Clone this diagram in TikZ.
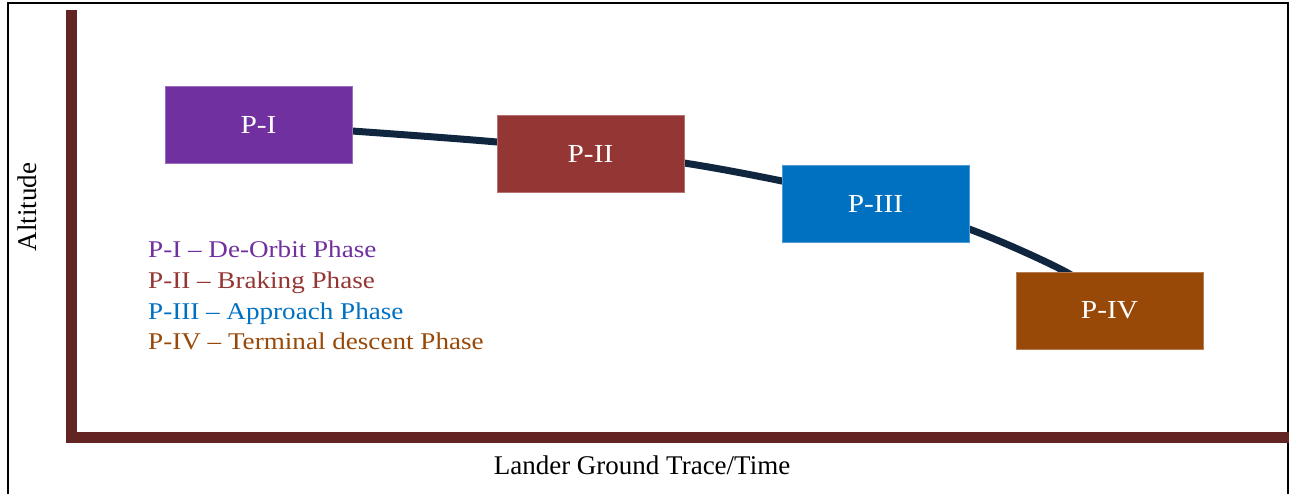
\documentclass[tikz,border=0pt]{standalone}
\usepackage{fontspec}
\setmainfont{Latin Modern Roman}
\newfontfamily\tnr{Liberation Serif}[Ligatures=TeX]
\newfontfamily\cam{Liberation Serif}[FakeStretch=1.13, Ligatures=TeX]
\definecolor{axisbrown}{HTML}{632523}
\definecolor{pone}{HTML}{7030A0}
\definecolor{ptwo}{HTML}{943634}
\definecolor{pthree}{HTML}{0070C0}
\definecolor{pfour}{HTML}{984807}
\definecolor{navy}{HTML}{10263F}
\tikzset{
  phasebox/.style={rectangle, inner sep=0pt, minimum width=187pt, minimum height=77pt,
    text=white, font=\cam\fontsize{26}{26}\selectfont, draw=#1!70!white, line width=0.6pt, fill=#1},
  legendtext/.style={anchor=base west, inner sep=0pt, font=\cam\fontsize{24}{24}\selectfont},
  axislabel/.style={inner sep=0pt, font=\tnr\fontsize{27}{27}\selectfont, text=black},
  trajectory/.style={draw=navy, line width=7pt},
  axisline/.style={draw=axisbrown, line width=11pt},
  frame/.style={draw=black, line width=2pt}
}
\begin{document}
\begin{tikzpicture}[x=1pt, y=-1pt]
\useasboundingbox (0,0) rectangle (1289,494);
% outer frame
\draw[frame] (8,494) -- (8,3) -- (1288,3) -- (1288,494);
% axes
\draw[axisline, line join=miter] (71.5,10) -- (71.5,437.5) -- (1289,437.5);
% trajectory curve
\coordinate (c0) at (258,125);
\coordinate (c1) at (352,131);
\coordinate (c2) at (497,142);
\coordinate (c3) at (590,152);
\coordinate (c4) at (684,163);
\coordinate (c5) at (782,181);
\coordinate (c6) at (875,202);
\coordinate (c7) at (969,229);
\coordinate (c8) at (1066,272);
\coordinate (c9) at (1100,300);
\draw[trajectory] plot[smooth, tension=0.55] coordinates {(c0) (c1) (c2) (c3) (c4) (c5) (c6) (c7) (c8) (c9)};
% phase boxes
\node[phasebox=pone] (p1) at (258.5,124.5) {P-I};
\node[phasebox=ptwo] (p2) at (590.5,153.5) {P-II};
\node[phasebox=pthree] (p3) at (875.5,203.5) {P-III};
\node[phasebox=pfour] (p4) at (1109.5,310.5) {P-IV};
% legend
\node[legendtext, text=pone] (l1) at (148,257) {P-I – De-Orbit Phase};
\node[legendtext, text=ptwo] (l2) at (148,288) {P-II – Braking Phase};
\node[legendtext, text=pthree] (l3) at (148,319) {P-III – Approach Phase};
\node[legendtext, text=pfour] (l4) at (148,349) {P-IV – Terminal descent Phase};
% axis labels
\node[axislabel, rotate=90] (ylab) at (27,207) {Altitude};
\node[axislabel, anchor=base] (xlab) at (642,474) {Lander Ground Trace/Time};
\end{tikzpicture}
\end{document}
